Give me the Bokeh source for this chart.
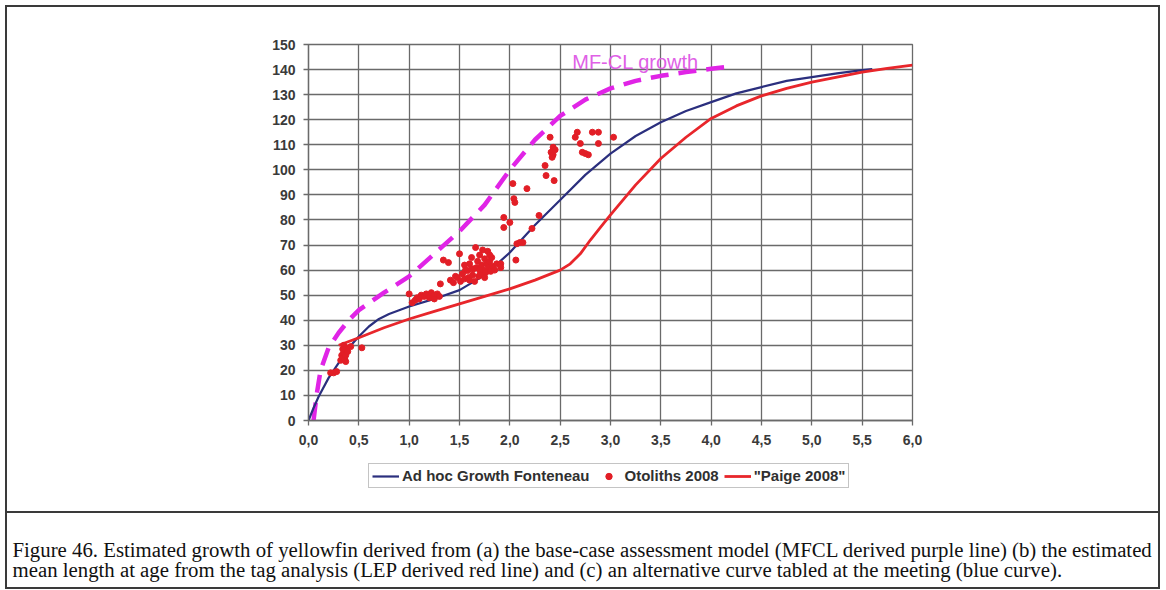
from bokeh.plotting import figure
from bokeh.models import FixedTicker, Legend, LegendItem, Label, Range1d
from bokeh.embed import file_html
from bokeh.resources import INLINE

# ---------------- data ----------------
x_ticks = [0.0, 0.5, 1.0, 1.5, 2.0, 2.5, 3.0, 3.5, 4.0, 4.5, 5.0, 5.5, 6.0]
x_tick_labels = ["0,0", "0,5", "1,0", "1,5", "2,0", "2,5", "3,0", "3,5",
                 "4,0", "4,5", "5,0", "5,5", "6,0"]
y_ticks = [0, 10, 20, 30, 40, 50, 60, 70, 80, 90, 100, 110, 120, 130, 140, 150]

# Ad hoc Growth Fonteneau (blue curve)
fon_age = [0.0, 0.05, 0.1, 0.2, 0.3, 0.4, 0.5, 0.6, 0.7, 0.8, 0.9, 1.0, 1.25,
           1.5, 1.75, 2.0, 2.25, 2.5, 2.75, 3.0, 3.25, 3.5, 3.75, 4.0, 4.25,
           4.5, 4.75, 5.0, 5.25, 5.5, 5.6]
fon_len = [0.0, 5.0, 9.5, 17.0, 23.0, 29.0, 33.5, 37.5, 40.5, 42.5, 44.0, 45.5,
           48.5, 52.0, 58.0, 67.0, 78.0, 88.0, 98.0, 106.5, 113.5, 119.0, 123.5,
           127.0, 130.5, 133.0, 135.5, 137.0, 138.5, 139.8, 140.2]

# "Paige 2008" (red curve)
paige_age = [0.3, 0.4, 0.5, 0.75, 1.0, 1.25, 1.5, 1.75, 2.0, 2.25, 2.5, 2.6,
             2.7, 2.8, 2.9, 3.0, 3.25, 3.5, 3.75, 4.0, 4.25, 4.5, 4.75, 5.0,
             5.25, 5.5, 5.75, 6.0]
paige_len = [30.0, 31.5, 33.0, 37.0, 40.5, 43.5, 46.5, 49.5, 52.5, 56.0, 60.0,
             62.5, 66.5, 72.0, 77.0, 82.0, 94.0, 104.5, 113.0, 120.5, 125.5,
             129.5, 132.5, 135.0, 137.0, 139.0, 140.5, 141.8]

# MF-CL growth (magenta dashed curve)
mfcl_age = [0.05, 0.08, 0.12, 0.2, 0.3, 0.4, 0.5, 0.75, 1.0, 1.25, 1.5, 1.75,
            2.0, 2.25, 2.5, 2.75, 3.0, 3.25, 3.5, 3.75, 4.0, 4.15]
mfcl_len = [0.0, 10.0, 20.0, 29.0, 35.0, 40.0, 44.0, 51.0, 57.5, 66.5, 75.5,
            86.0, 100.0, 112.0, 121.5, 128.0, 132.5, 135.5, 137.5, 139.0,
            140.3, 141.0]

# Otoliths 2008 (red points)
oto_age = [0.22, 0.25, 0.28, 0.32, 0.33, 0.34, 0.35, 0.36, 0.36, 0.37, 0.38,
           0.35, 0.34, 0.37, 0.39, 0.42, 0.53,
           1.0, 1.03, 1.06, 1.08, 1.1, 1.12, 1.15, 1.17, 1.2, 1.22, 1.25, 1.28,
           1.3, 1.25, 1.31,
           1.34, 1.39, 1.41, 1.44, 1.46, 1.48, 1.5, 1.51, 1.53, 1.55, 1.56,
           1.58, 1.59, 1.6, 1.62, 1.63, 1.64, 1.66, 1.67, 1.68, 1.69, 1.7,
           1.71, 1.72, 1.73, 1.74, 1.75, 1.76, 1.77, 1.78, 1.79, 1.8, 1.81,
           1.82, 1.83, 1.85, 1.87, 1.65, 1.6, 1.7, 1.75, 1.8, 1.55, 1.62,
           1.91, 2.06, 2.07, 2.1, 2.13, 1.91,
           1.94, 1.94, 2.0, 2.03, 2.04, 2.05, 2.17, 2.22, 2.29, 2.35, 2.36,
           2.44, 2.4, 2.43, 2.41, 2.43, 2.45, 2.42,
           2.65, 2.67, 2.7, 2.72, 2.75, 2.78, 2.82, 2.88, 2.88, 3.03]
oto_len = [19.0, 19.0, 19.5, 24.0, 26.0, 25.0, 27.0, 24.5, 28.0, 26.0, 29.0,
           30.0, 28.5, 23.5, 27.5, 29.5, 29.0,
           50.5, 47.0, 48.0, 49.0, 48.5, 50.0, 49.5, 50.5, 49.0, 51.0, 50.0,
           50.5, 49.5, 48.5, 54.5,
           64.0, 63.0, 56.0, 55.0, 57.5, 57.0, 66.5, 55.5, 58.5, 56.5, 60.0,
           59.8, 57.0, 62.5, 65.0, 58.0, 60.5, 69.0, 61.0, 63.5, 57.5, 66.0,
           58.5, 62.0, 68.0, 60.0, 64.5, 59.0, 62.5, 67.5, 61.0, 63.5, 59.5,
           65.0, 61.5, 60.0, 62.5, 55.5, 56.0, 60.0, 57.0, 66.0, 62.0, 60.5,
           62.5, 64.0, 70.5, 71.0, 71.0, 61.0,
           81.0, 77.0, 79.0, 94.5, 88.5, 87.0, 92.5, 76.6, 81.8, 101.7, 97.7,
           95.7, 113.0, 109.0, 107.0, 106.0, 108.0, 105.0,
           113.0, 115.0, 110.5, 107.0, 106.5, 106.0, 115.0, 115.0, 110.5, 113.0]

legend_labels = ["Ad hoc Growth Fonteneau", "Otoliths 2008", "\"Paige 2008\""]
mfcl_label = "MF-CL growth"
caption_lines = [
    "Figure 46. Estimated growth of yellowfin derived from (a) the base-case assessment model "
    "(MFCL derived purple line) (b) the estimated",
    "mean length at age from the tag analysis (LEP derived red line) and (c) an alternative "
    "curve tabled at the meeting (blue curve).",
]

# ---------------- styling constants ----------------
FONT = "Liberation Sans"
W = 1162
H1 = 455           # chart part height
H2 = 590 - H1      # legend + caption part height
LINE = "linear-gradient(#3a3a3a, #3a3a3a)"
BLUE, RED, MAG, DOT = "#2b2f7e", "#e8262b", "#e024e6", "#e21e26"

css1 = ", ".join([
    f"{LINE} 5px 5px / 1155px 2px no-repeat",          # top
    f"{LINE} 5px 5px / 2px {H1}px no-repeat",          # left
    f"{LINE} 1158px 5px / 2px {H1}px no-repeat",       # right
    "white",
])
css2 = ", ".join([
    f"{LINE} 5px 0px / 2px {587 - H1 + 2}px no-repeat",     # left
    f"{LINE} 1158px 0px / 2px {587 - H1 + 2}px no-repeat",  # right
    f"{LINE} 5px {511 - H1}px / 1155px 2px no-repeat",      # separator
    f"{LINE} 5px {587 - H1}px / 1155px 2px no-repeat",      # bottom
    "white",
])

# ---------------- chart ----------------
p = figure(width=W, height=H1, output_backend="svg", toolbar_location=None,
           x_range=Range1d(0, 6), y_range=Range1d(0, 150),
           min_border_left=308, min_border_right=W - 912,
           min_border_top=44, min_border_bottom=H1 - 420)
p.border_fill_color = None
p.background_fill_color = "white"
p.styles = {"background": css1}

p.outline_line_color = "#6a6a6a"
p.outline_line_width = 1.3

for ax in (p.xaxis, p.yaxis):
    ax.axis_line_color = "#6a6a6a"
    ax.axis_line_width = 1.3
    ax.major_tick_line_color = "#6a6a6a"
    ax.major_tick_line_width = 1.3
    ax.major_tick_out = 5
    ax.major_tick_in = 0
    ax.minor_tick_line_color = None
    ax.major_label_text_font = FONT
    ax.major_label_text_font_size = "14px"
    ax.major_label_text_font_style = "bold"
    ax.major_label_text_color = "#3a3a3a"

p.xaxis.ticker = FixedTicker(ticks=x_ticks)
p.xaxis.major_label_overrides = {t: l for t, l in zip(x_ticks, x_tick_labels)}
p.xaxis.major_label_standoff = 9
p.yaxis.ticker = FixedTicker(ticks=y_ticks)
p.yaxis.major_label_standoff = 8

for g in (p.xgrid, p.ygrid):
    g.grid_line_color = "#6a6a6a"
    g.grid_line_width = 1.3

p.line(mfcl_age, mfcl_len, line_color=MAG, line_width=4.5, line_dash="18 10")
p.line(fon_age, fon_len, line_color=BLUE, line_width=2.2)
p.line(paige_age, paige_len, line_color=RED, line_width=2.8)
p.scatter(oto_age, oto_len, size=6, fill_color=DOT, line_color=DOT,
          marker="circle")

p.add_layout(Label(x=2.62, y=147.6, text=mfcl_label, text_font=FONT,
                   text_font_size="20px", text_color="#e060e6",
                   text_baseline="top"))

# ---------------- legend + caption strip (pixel coordinates) ----------------
q = figure(width=W, height=H2, output_backend="svg", toolbar_location=None,
           x_range=Range1d(0, W), y_range=Range1d(0, H2),
           x_axis_type=None, y_axis_type=None,
           min_border_left=0, min_border_right=0,
           min_border_top=0, min_border_bottom=0)
q.border_fill_color = None
q.background_fill_color = None
q.outline_line_color = None
q.grid.visible = False
q.styles = {"background": css2}

# legend keys: the same series, mapped through a range that keeps them
# outside this strip (only their legend swatches are seen)
q.extra_y_ranges = {"away": Range1d(-2000, -1900)}
k_blue = q.line(fon_age, fon_len, line_color=BLUE, line_width=2.2,
                y_range_name="away")
k_oto = q.scatter(oto_age, oto_len, size=4.5, fill_color=DOT, line_color=DOT,
                  marker="circle", y_range_name="away")
k_red = q.line(paige_age, paige_len, line_color=RED, line_width=2.8,
               y_range_name="away")

legend = Legend(items=[LegendItem(label=legend_labels[0], renderers=[k_blue]),
                       LegendItem(label=legend_labels[1], renderers=[k_oto]),
                       LegendItem(label=legend_labels[2], renderers=[k_red])],
                orientation="horizontal", location=(368, 590 - 488),
                label_text_font=FONT, label_text_font_size="15px",
                label_text_font_style="bold", label_text_color="#303030",
                glyph_width=27, glyph_height=16, label_standoff=3,
                label_height=16, spacing=5, padding=3, margin=0,
                border_line_color="#8a8a8a", border_line_width=1.2,
                background_fill_color="white", background_fill_alpha=1.0)
q.add_layout(legend)

for i, line in enumerate(caption_lines):
    q.add_layout(Label(x=12, y=590 - (549 + 20 * i), text=line,
                       text_font="Liberation Serif", text_font_size="20.8px",
                       text_color="#111111", text_baseline="alphabetic"))

open("out.html", "w").write(file_html([p, q], INLINE))
